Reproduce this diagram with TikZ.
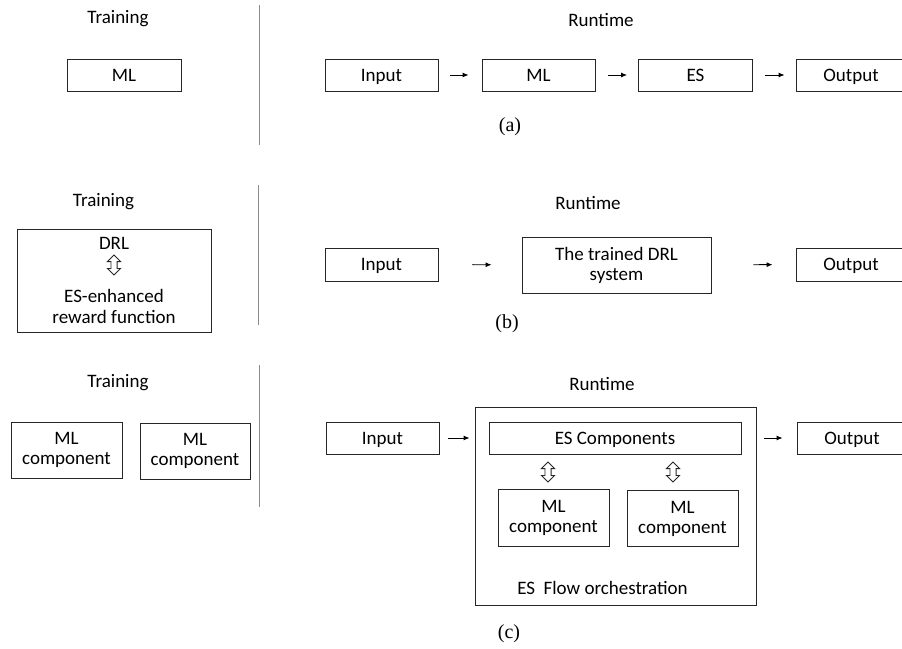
\documentclass[tikz,border=0pt]{standalone}
\usepackage{fontspec}
\setmainfont{Carlito}
\newfontfamily\capfont{Liberation Serif}
\usetikzlibrary{arrows.meta, shapes.arrows}

\tikzset{
  box/.style={draw=black!85, line width=0.9pt, align=center, inner sep=0pt},
  onebox/.style={box, text height=12.5pt, text depth=0pt},
  flow/.style={-{Latex[length=6pt,width=5pt]}, line width=0.9pt},
  sep/.style={draw=black!45, line width=0.9pt},
  dbl/.style={draw=black!85, line width=0.9pt, shape=double arrow, rotate=90,
    minimum height=20pt, minimum width=13pt, inner sep=2.6pt,
    double arrow head extend=3.5pt},
  sublbl/.style={font=\capfont\fontsize{20}{24}\selectfont}
}

\begin{document}
\begin{tikzpicture}[x=1pt, y=-1pt, font=\fontsize{19}{22}\selectfont]
\useasboundingbox (0,0) rectangle (902,648);

% (a)
\node (traina) at (118,19) {Training};
\node (runa) at (601,20) {Runtime};
\node[onebox, minimum width=114pt, minimum height=32pt] (mla) at (124,75) {ML};
\node[onebox, minimum width=113pt, minimum height=32pt] (ina) at (381.5,75) {Input};
\node[onebox, minimum width=113pt, minimum height=32pt] (mlb) at (538.5,75) {ML};
\node[onebox, minimum width=114pt, minimum height=32pt] (esa) at (695.5,75) {ES};
\node[onebox, minimum width=110pt, minimum height=32pt] (outa) at (851,75) {Output};
\node[sublbl] (capa) at (510,127) {(a)};
\coordinate (sepa1) at (259,5);
\coordinate (sepa2) at (259,145);

\draw[sep] (sepa1) -- (sepa2);
\draw[flow, shorten <=12pt, shorten >=13pt] (ina) -- (mlb);
\draw[flow, shorten <=13pt, shorten >=11pt] (mlb) -- (esa);
\draw[flow, shorten <=12pt, shorten >=11pt] (esa) -- (outa);

% (b)
\node (trainb) at (103.5,202) {Training};
\node (runb) at (588,203) {Runtime};
\node[box, minimum width=194pt, minimum height=103pt] (drlbox) at (114,280.5) {};
\node (drl) at (114,243) {DRL};
\node[dbl] (drlarr) at (114,265) {};
\node (esrew) at (114,296) {ES-enhanced};
\node (rew) at (114,317) {reward function};
\node[onebox, minimum width=113pt, minimum height=33pt] (inb) at (381.5,264.5) {Input};
\node[box, minimum width=189pt, minimum height=56pt] (trained) at (616.5,265) {The trained DRL\\[-2pt]system};
\node[onebox, minimum width=110pt, minimum height=33pt] (outb) at (851,264.5) {Output};
\node[sublbl] (capb) at (507,324) {(b)};
\coordinate (sepb1) at (258,185);
\coordinate (sepb2) at (258,325);

\draw[sep] (sepb1) -- (sepb2);
\draw[flow, shorten <=34pt, shorten >=30pt] (inb) -- (trained);
\draw[flow, shorten <=42pt, shorten >=23pt] (trained) -- (outb);

% (c)
\node (trainc) at (118,383) {Training};
\node (runc) at (602,384) {Runtime};
\node[box, minimum width=111pt, minimum height=56pt] (mlc1) at (66.5,450) {ML\\[-2pt]component};
\node[box, minimum width=110pt, minimum height=56pt] (mlc2) at (195,451) {ML\\[-2pt]component};
\node[onebox, minimum width=113pt, minimum height=32pt] (inc) at (382.5,438) {Input};
\node[box, minimum width=281pt, minimum height=198pt] (orchbox) at (615.5,506.5) {};
\node[onebox, minimum width=252pt, minimum height=32pt] (escomp) at (615,438) {ES Components};
\node[dbl] (arr1) at (548,472) {};
\node[dbl] (arr2) at (673,472) {};
\node[box, minimum width=111pt, minimum height=57pt] (mlc3) at (553.5,517.5) {ML\\[-2pt]component};
\node[box, minimum width=111pt, minimum height=56pt] (mlc4) at (682.5,518.5) {ML\\[-2pt]component};
\node (orch) at (602.5,588) {ES\ \ Flow orchestration};
\node[onebox, minimum width=110pt, minimum height=32pt] (outc) at (852,438) {Output};
\node[sublbl] (capc) at (509,634) {(c)};
\coordinate (sepc1) at (259,365);
\coordinate (sepc2) at (259,507);

\draw[sep] (sepc1) -- (sepc2);
\draw[flow, shorten <=9pt, shorten >=5pt] (inc) -- (orchbox.west |- inc);
\draw[flow, shorten <=8pt, shorten >=14pt] (orchbox.east |- outc) -- (outc);
\end{tikzpicture}
\end{document}
